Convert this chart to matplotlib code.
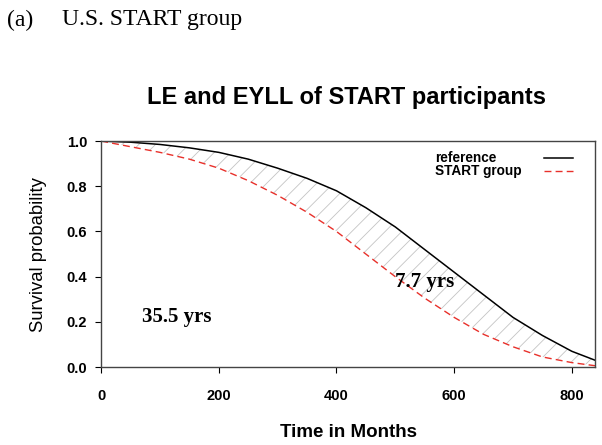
import matplotlib.pyplot as plt
import numpy as np

# survival curves (months -> probability)
months = [0, 50, 100, 150, 200, 250, 300, 350, 400, 450, 500, 550, 600, 650, 700, 750, 800, 840]
reference = [1.0, 0.995, 0.985, 0.97, 0.95, 0.92, 0.88, 0.835, 0.78, 0.705, 0.62, 0.52, 0.42, 0.32, 0.22, 0.14, 0.07, 0.03]
start_group = [1.0, 0.975, 0.95, 0.92, 0.88, 0.825, 0.76, 0.685, 0.60, 0.50, 0.40, 0.305, 0.22, 0.145, 0.09, 0.045, 0.02, 0.006]

x_ticks = [0, 200, 400, 600, 800]
y_ticks = [0.0, 0.2, 0.4, 0.6, 0.8, 1.0]

ref_style = dict(color="black", linewidth=1.1)
start_style = dict(color="#e8302a", linewidth=1.0, linestyle=(0, (5, 3)))

fig = plt.figure(figsize=(6.02, 4.45), dpi=100)
ax = fig.add_axes([0.168, 0.175, 0.821, 0.508])

plt.rcParams["hatch.linewidth"] = 0.6
ax.fill_between(months, start_group, reference, facecolor="white",
                edgecolor="#c4c4c4", hatch="//", linewidth=0)
ax.plot(months, reference, **ref_style)
ax.plot(months, start_group, **start_style)

ax.set_xlim(0, 840)
ax.set_ylim(0, 1.0)
ax.set_xticks(x_ticks)
ax.set_yticks(y_ticks)
ax.set_xticklabels([str(t) for t in x_ticks], fontweight="bold", fontsize=10.5,
                   family="Liberation Sans")
ax.set_yticklabels([f"{t:.1f}" for t in y_ticks], fontweight="bold", fontsize=10.5,
                   family="Liberation Sans")
ax.tick_params(direction="out", length=4, width=0.8)
ax.tick_params(axis="y", pad=6)
ax.tick_params(axis="x", pad=12)
for sp in ax.spines.values():
    sp.set_color("#444444")
    sp.set_linewidth(1.0)

ax.set_ylabel("Survival probability", fontsize=13.3, family="Liberation Sans", labelpad=14)
ax.set_xlabel("Time in Months", fontsize=13.5, fontweight="bold",
              family="Liberation Sans", labelpad=15)

# legend, texts left aligned with the sample lines to their right
leg_font = dict(family="Liberation Sans", fontweight="bold", fontsize=9.8, va="center")
for label, style, yy in [("reference", ref_style, 0.925), ("START group", start_style, 0.867)]:
    ax.text(0.676, yy, label, transform=ax.transAxes, **leg_font)
    ax.plot([0.897, 0.955], [yy, yy], transform=ax.transAxes, **style)

ax.text(70, 0.221, "35.5 yrs", fontsize=15, family="Liberation Serif",
        fontweight="bold", va="center")
ax.text(499, 0.376, "7.7 yrs", fontsize=15, family="Liberation Serif",
        fontweight="bold", va="center")

fig.text(0.575, 0.766, "LE and EYLL of START participants", ha="center",
         va="baseline", fontsize=17, fontweight="bold", family="Liberation Sans")
fig.text(7 / 602, 1 - 20 / 445, "(a)", fontsize=17, family="Liberation Serif", va="center")
fig.text(62 / 602, 1 - 20 / 445, "U.S. START group", fontsize=17,
         family="Liberation Serif", va="center")

fig.savefig("out.png", dpi=100)
